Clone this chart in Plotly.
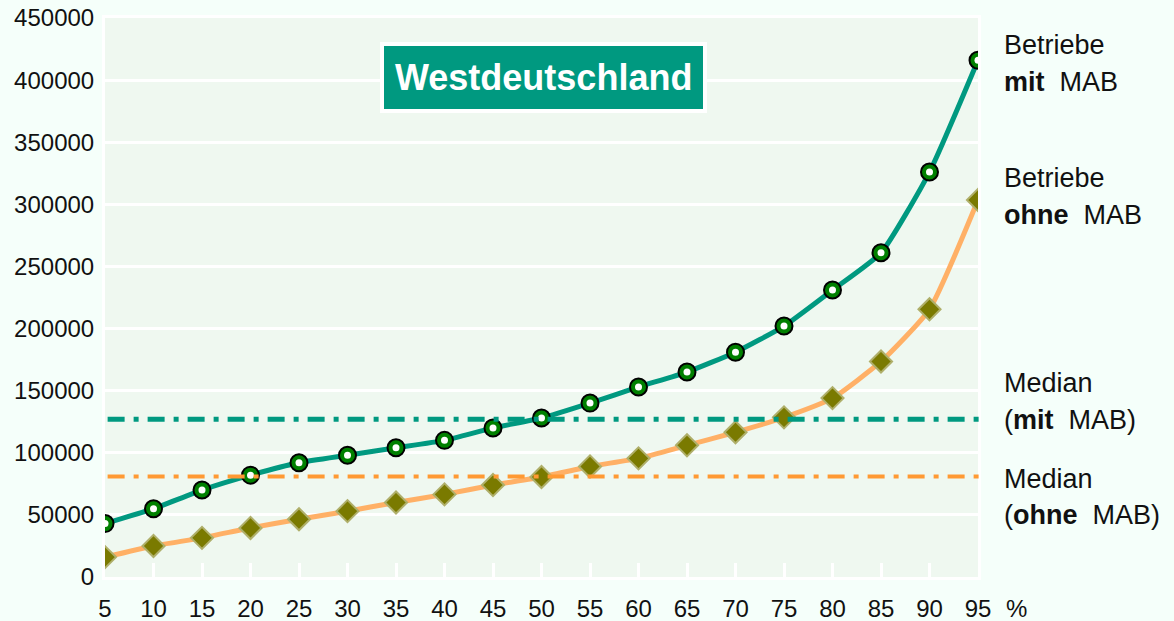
import plotly.graph_objects as go

# ---- data ----
percentiles = [5, 10, 15, 20, 25, 30, 35, 40, 45, 50, 55, 60, 65, 70, 75, 80, 85, 90, 95]
mit_mab = [43000, 55000, 70000, 82000, 92000, 98000, 104000, 110000, 120000, 128000,
           140000, 153000, 165000, 181000, 202000, 231000, 261000, 326000, 416000]
ohne_mab = [16000, 25000, 31500, 39500, 46500, 53000, 60000, 66500, 74000, 80500,
            89000, 95500, 106000, 116500, 128500, 144000, 173500, 215500, 303500]
median_mit = 127000
median_ohne = 81000
y_ticks = [0, 50000, 100000, 150000, 200000, 250000, 300000, 350000, 400000, 450000]
title_text = "Westdeutschland"

TEAL = "#009980"
ORANGE_LINE = "#FFB066"
ORANGE_MED = "#FF9933"
FONT = "Liberation Sans, Arial, sans-serif"

# plot area in pixels
W, H = 1174, 621
L, R, T, B = 105, 196, 18, 44
pw, ph = W - L - R, H - T - B

def px_x(x):
    return (x - L) / pw

def px_y(y):
    return (H - B - y) / ph

fig = go.Figure()

fig.add_trace(go.Scatter(
    x=percentiles, y=ohne_mab, mode="lines+markers",
    line=dict(color=ORANGE_LINE, width=5, shape="spline", smoothing=0.5),
    marker=dict(symbol="diamond", size=17, color="#7A7A00",
                line=dict(color="#AFAF6A", width=2)),
    showlegend=False, hoverinfo="x+y"))

fig.add_trace(go.Scatter(
    x=percentiles, y=mit_mab, mode="lines+markers",
    line=dict(color=TEAL, width=5, shape="spline", smoothing=0.5),
    marker=dict(symbol="circle", size=17, color="#008000",
                line=dict(color="#000000", width=2)),
    showlegend=False, hoverinfo="x+y"))

# white highlight on green markers
fig.add_trace(go.Scatter(
    x=percentiles, y=mit_mab, mode="markers",
    marker=dict(symbol="circle", size=7, color="#FFFFFF",
                line=dict(width=0)),
    showlegend=False, hoverinfo="skip"))

dash = "17px,9px,5px,9px"
fig.add_shape(type="line", xref="paper", yref="y", x0=0.003, x1=1.005,
              y0=median_mit, y1=median_mit,
              line=dict(color=TEAL, width=5, dash=dash), layer="above")
fig.add_shape(type="line", xref="paper", yref="y", x0=0.003, x1=1.005,
              y0=median_ohne, y1=median_ohne,
              line=dict(color=ORANGE_MED, width=4, dash=dash), layer="above")

annotations = [
    dict(text="<b>" + title_text + "</b>", x=px_x(543.5), y=px_y(77),
         xref="paper", yref="paper", xanchor="center", yanchor="middle",
         showarrow=False, font=dict(family=FONT, size=36, color="white"),
         bgcolor=TEAL, bordercolor="white", borderwidth=4, borderpad=11),
]
labels = [
    ("Betriebe", 45),
    ("<b>mit</b>\u00a0\u00a0MAB", 82),
    ("Betriebe", 178),
    ("<b>ohne</b>\u00a0\u00a0MAB", 215),
    ("Median", 383),
    ("(<b>mit</b>\u00a0\u00a0MAB)", 420),
    ("Median", 479),
    ("(<b>ohne</b>\u00a0\u00a0MAB)", 515),
]
for txt, yy in labels:
    annotations.append(dict(text=txt, x=px_x(1002), y=px_y(yy), xref="paper", yref="paper",
                            xanchor="left", yanchor="middle", showarrow=False,
                            font=dict(family=FONT, size=27, color="#111111")))
annotations.append(dict(text="%", x=px_x(1004), y=px_y(608), xref="paper", yref="paper",
                        xanchor="left", yanchor="middle", showarrow=False,
                        font=dict(family=FONT, size=24, color="#111111")))

fig.update_layout(
    width=W, height=H,
    margin=dict(l=L, r=R, t=T, b=B, pad=0, autoexpand=False),
    paper_bgcolor="#F5FFFA",
    plot_bgcolor="#EFF8F0",
    font=dict(family=FONT, size=24, color="#111111"),
    annotations=annotations,
    showlegend=False,
)
fig.update_xaxes(range=[5, 95], tickmode="array", tickvals=percentiles,
                 ticktext=[str(p) for p in percentiles],
                 showgrid=False, zeroline=False, automargin=False,
                 ticks="inside", ticklen=14, tickwidth=3, tickcolor="white",
                 showline=True, mirror=True, linecolor="white", linewidth=3,
                 ticklabelstandoff=8, tickfont=dict(size=24))
fig.update_yaxes(range=[0, 450000], tickmode="array", tickvals=y_ticks,
                 ticktext=[str(v) for v in y_ticks],
                 showgrid=True, gridcolor="white", gridwidth=3,
                 zeroline=False, ticks="", automargin=False,
                 showline=True, mirror=True, linecolor="white", linewidth=3,
                 ticklabelstandoff=3, tickfont=dict(size=24))

fig.write_html("out.html", config={"displayModeBar": False},
               post_script="document.body.style.margin='0';")
